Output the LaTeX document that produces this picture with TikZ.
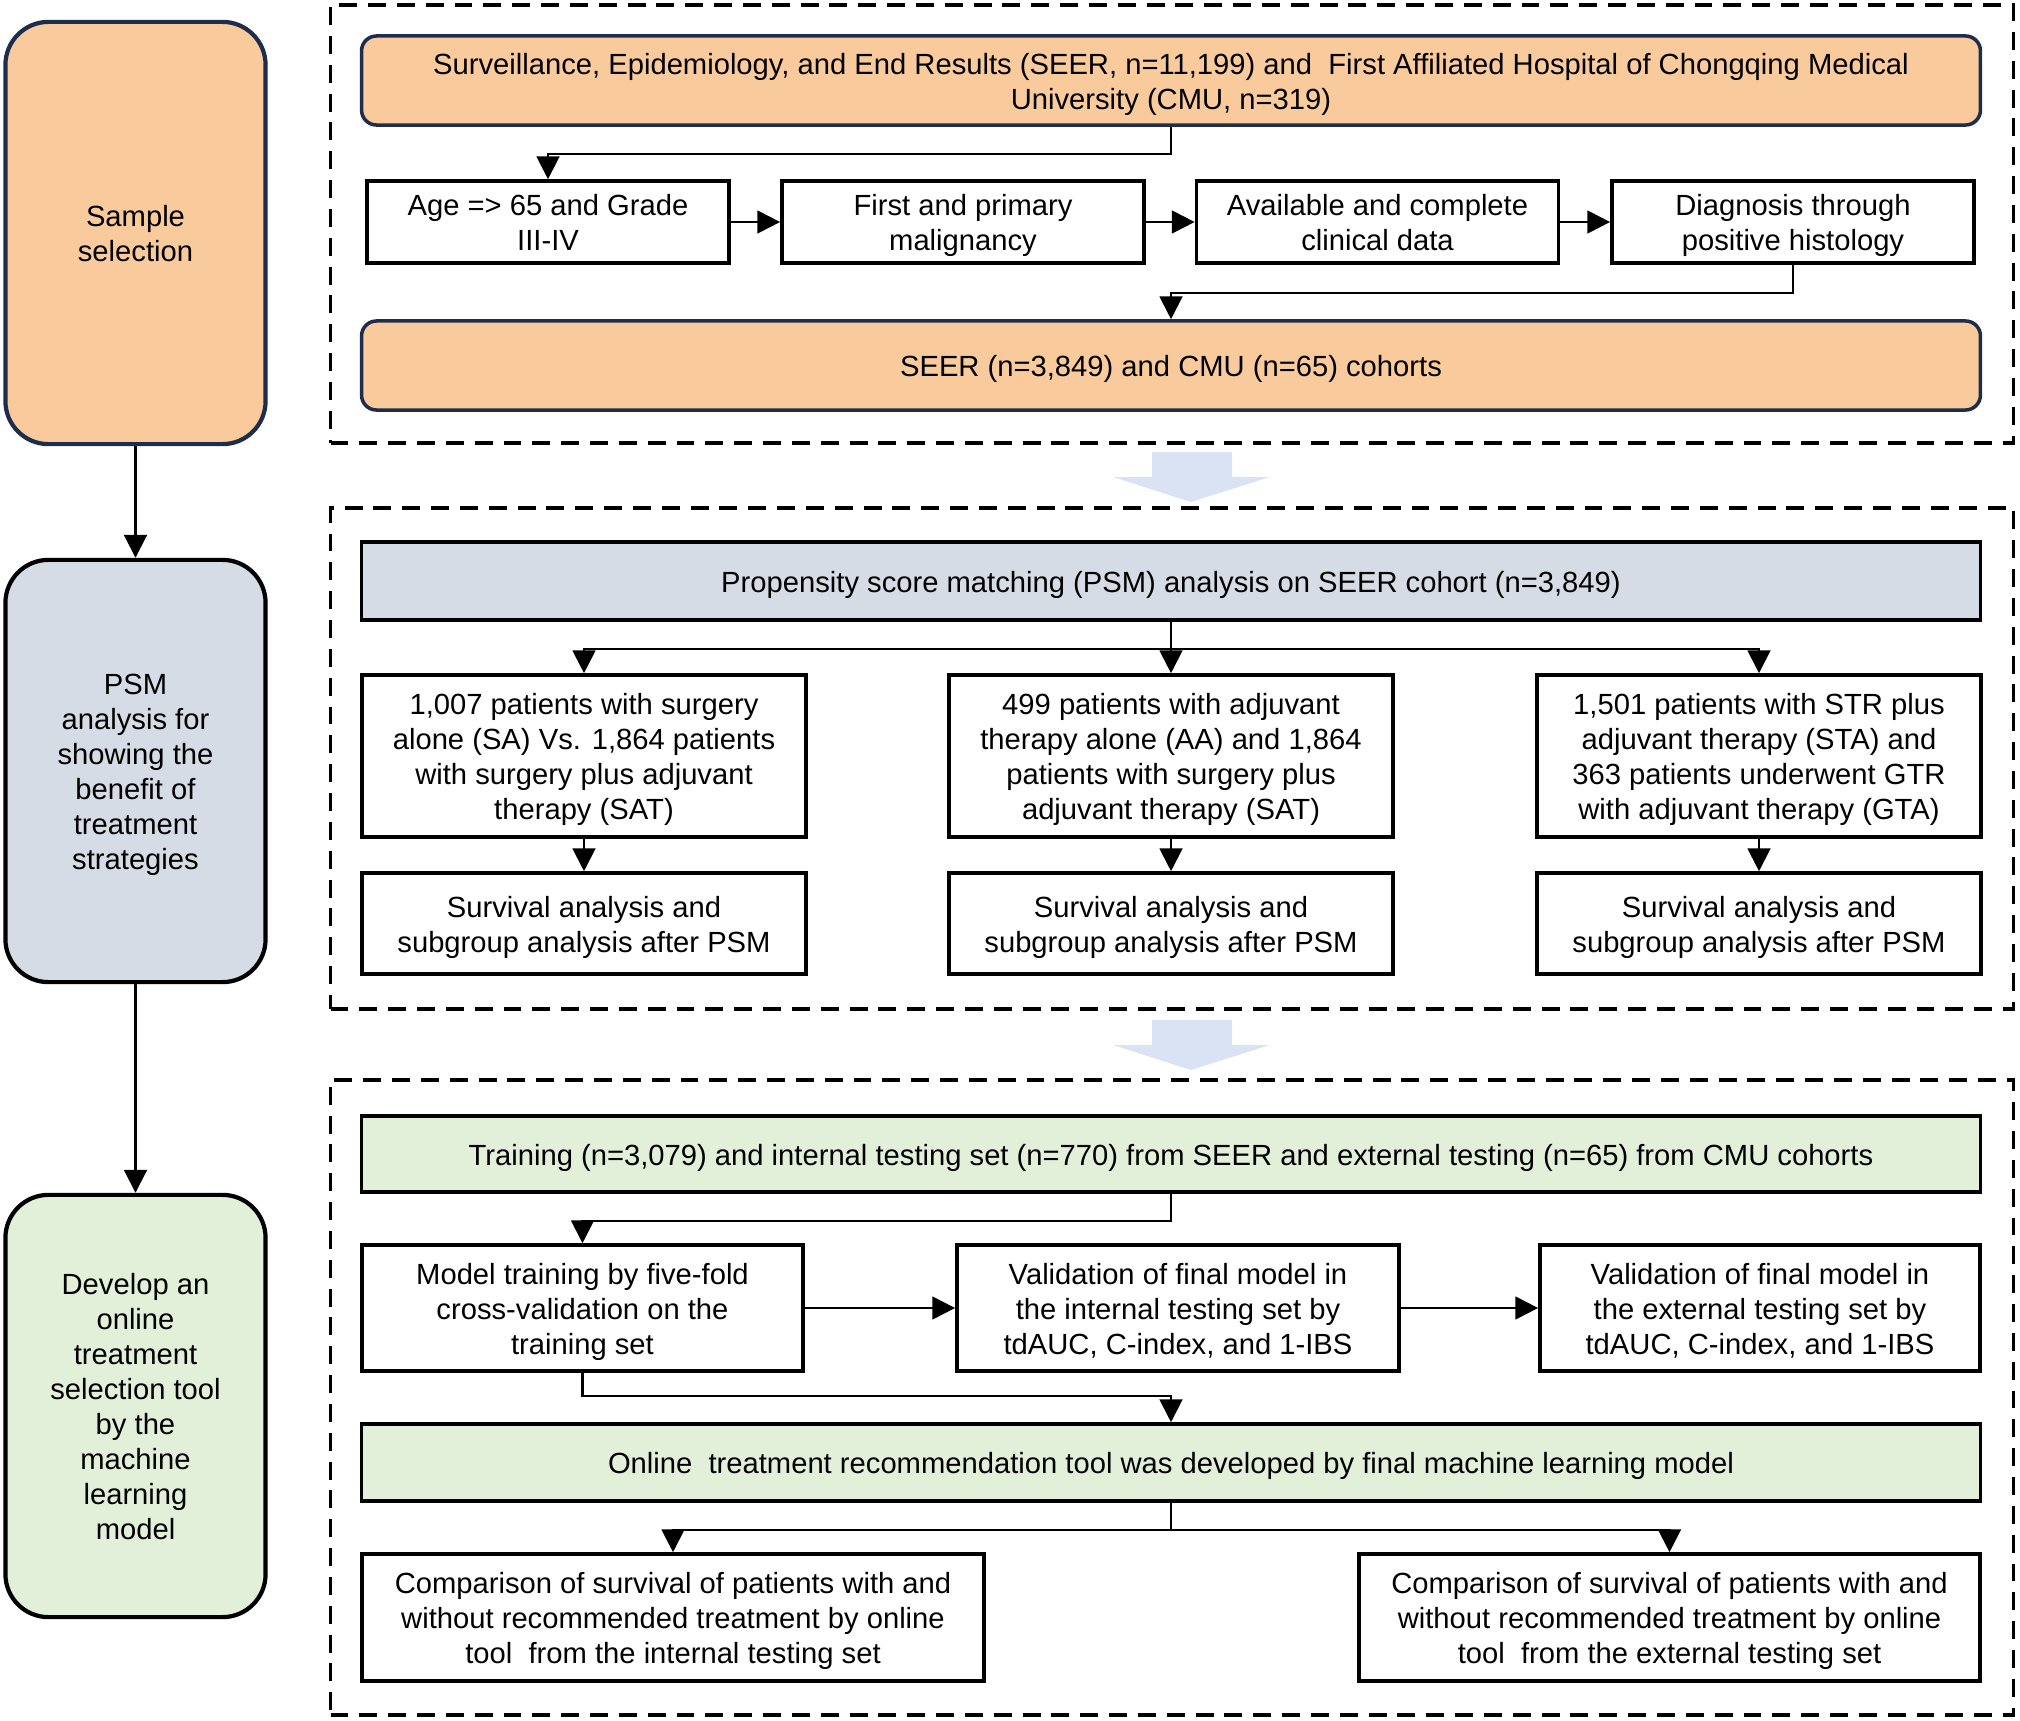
\documentclass[tikz,border=0pt]{standalone}
\usepackage{fontspec}
\usepackage{array}
\setmainfont{Liberation Sans}
\usetikzlibrary{arrows.meta,calc}
\definecolor{orng}{HTML}{F9CB9C}
\definecolor{navy}{HTML}{1F2D4D}
\definecolor{bgrey}{HTML}{D6DCE5}
\definecolor{lgreen}{HTML}{E2F0D9}
\definecolor{barrow}{HTML}{DAE3F3}
\newcommand\mystrutx{\rule[-1.76pt]{0pt}{9.96pt}}
\newcommand\tb[1]{{\renewcommand\arraystretch{0}\begin{tabular}{@{}>{\mystrutx}c@{}}#1\end{tabular}}}
\begin{document}
\begin{tikzpicture}[x=0.01cm,y=-0.01cm,
  font=\fontsize{8.3}{9.95}\selectfont,
  box/.style={draw=black, line width=1pt, inner sep=0pt},
  side/.style={box, line width=1.2pt, rounded corners=0.43cm,
    minimum width=2.6cm, minimum height=4.22cm},
  panel/.style={draw=black, line width=1.1pt, dash pattern=on 5.1pt off 3.1pt,
    minimum width=16.82cm, inner sep=0pt},
  wide/.style={box, minimum width=16.18cm},
  rowbox/.style={box, minimum width=3.62cm, minimum height=0.82cm},
  tribox/.style={box, minimum width=4.44cm},
  conn/.style={line width=0.6pt, -{Triangle[width=6.5pt,length=6.5pt]}},
  blockarrow/.style={fill=barrow}
]
\path[use as bounding box] (0,0) rectangle (2020,1721);

% dashed panels
\node[panel, minimum height=4.38cm] (P1) at (1172,224) {};
\node[panel, minimum height=5.01cm] (P2) at (1172,758.5) {};
\node[panel, minimum height=6.35cm] (P3) at (1172,1397.5) {};

% block arrows between panels
\fill[blockarrow] (1152,452) -- (1232,452) -- (1232,477) -- (1270,477) -- (1191,502) -- (1113,477) -- (1152,477) -- cycle;
\fill[blockarrow] (1152,1020) -- (1232,1020) -- (1232,1045) -- (1270,1045) -- (1191,1070) -- (1113,1045) -- (1152,1045) -- cycle;

% left column
\node[side, fill=orng, draw=navy] (L1) at (135.5,233) {\tb{Sample\\selection}};
\node[side, fill=bgrey] (L2) at (135.5,771) {\tb{PSM\\analysis for\\showing the\\benefit of\\treatment\\strategies}};
\node[side, fill=lgreen] (L3) at (135.5,1406) {\tb{Develop an\\online\\treatment\\selection tool\\by the\\machine\\learning\\model}};
\draw[conn] (L1.south) -- (L2.north);
\draw[conn] (L2.south) -- (L3.north);

% panel 1
\node[wide, rounded corners=0.15cm, fill=orng, draw=navy, minimum height=0.89cm] (top) at (1171,80.5)
  {\tb{Surveillance, Epidemiology, and End Results (SEER, n=11,199) and\ \ First Affiliated Hospital of Chongqing Medical\\University (CMU, n=319)}};
\node[rowbox] (r1) at (548,222) {\tb{Age => 65 and Grade\\III-IV}};
\node[rowbox] (r2) at (963,222) {\tb{First and primary\\malignancy}};
\node[rowbox] (r3) at (1377.5,222) {\tb{Available and complete\\clinical data}};
\node[rowbox] (r4) at (1793,222) {\tb{Diagnosis through\\positive histology}};
\node[wide, rounded corners=0.15cm, fill=orng, draw=navy, minimum height=0.89cm] (cohort) at (1171,365.5)
  {\tb{SEER (n=3,849) and CMU (n=65) cohorts}};
\draw[conn] (top.south) -- ++(0,27) -| (r1.north);
\draw[conn] (r1.east) -- (r2.west);
\draw[conn] (r2.east) -- (r3.west);
\draw[conn] (r3.east) -- (r4.west);
\draw[conn] (r4.south) -- ++(0,28) -| (cohort.north);

% panel 2
\node[wide, fill=bgrey, minimum height=0.78cm] (psm) at (1171,581)
  {\tb{Propensity score matching (PSM) analysis on SEER cohort (n=3,849)}};
\node[tribox, minimum height=1.62cm] (a1) at (584,756)
  {\tb{1,007 patients with surgery\\alone (SA) Vs. 1,864 patients\\with surgery plus adjuvant\\therapy (SAT)}};
\node[tribox, minimum height=1.62cm] (a2) at (1171,756)
  {\tb{499 patients with adjuvant\\therapy alone (AA) and 1,864\\patients with surgery plus\\adjuvant therapy (SAT)}};
\node[tribox, minimum height=1.62cm] (a3) at (1759,756)
  {\tb{1,501 patients with STR plus\\adjuvant therapy (STA) and\\363 patients underwent GTR\\with adjuvant therapy (GTA)}};
\node[tribox, minimum height=1.01cm] (s1) at (584,923.5) {\tb{Survival analysis and\\subgroup analysis after PSM}};
\node[tribox, minimum height=1.01cm] (s2) at (1171,923.5) {\tb{Survival analysis and\\subgroup analysis after PSM}};
\node[tribox, minimum height=1.01cm] (s3) at (1759,923.5) {\tb{Survival analysis and\\subgroup analysis after PSM}};
\draw[conn] (psm.south) -- ++(0,27) -| (a1.north);
\draw[conn] (psm.south) -- (a2.north);
\draw[conn] (psm.south) -- ++(0,27) -| (a3.north);
\draw[conn] (a1.south) -- (s1.north);
\draw[conn] (a2.south) -- (s2.north);
\draw[conn] (a3.south) -- (s3.north);

% panel 3
\node[wide, fill=lgreen, minimum height=0.76cm] (train) at (1171,1154)
  {\tb{Training (n=3,079) and internal testing set (n=770) from SEER and external testing (n=65) from CMU cohorts}};
\node[box, minimum width=4.41cm, minimum height=1.26cm] (m1) at (582.5,1308)
  {\tb{Model training by five-fold\\cross-validation on the\\training set}};
\node[box, minimum width=4.42cm, minimum height=1.26cm] (m2) at (1178,1308)
  {\tb{Validation of final model in\\the internal testing set by\\tdAUC, C-index, and 1-IBS}};
\node[box, minimum width=4.40cm, minimum height=1.26cm] (m3) at (1760,1308)
  {\tb{Validation of final model in\\the external testing set by\\tdAUC, C-index, and 1-IBS}};
\node[wide, fill=lgreen, minimum height=0.77cm] (online) at (1171,1462.5)
  {\tb{Online\ \ treatment recommendation tool was developed by final machine learning model}};
\node[box, minimum width=6.22cm, minimum height=1.27cm] (c1) at (673,1617.5)
  {\tb{Comparison of survival of patients with and\\without recommended treatment by online\\tool\ \ from the internal testing set}};
\node[box, minimum width=6.21cm, minimum height=1.27cm] (c2) at (1669.5,1617.5)
  {\tb{Comparison of survival of patients with and\\without recommended treatment by online\\tool\ \ from the external testing set}};
\draw[conn] (train.south) -- ++(0,27) -| (m1.north);
\draw[conn] (m1.east) -- (m2.west);
\draw[conn] (m2.east) -- (m3.west);
\draw[conn] (m1.south) -- ++(0,23) -| (online.north);
\draw[conn] (online.south) -- ++(0,27) -| (c1.north);
\draw[conn] (online.south) -- ++(0,27) -| (c2.north);
\end{tikzpicture}
\end{document}
